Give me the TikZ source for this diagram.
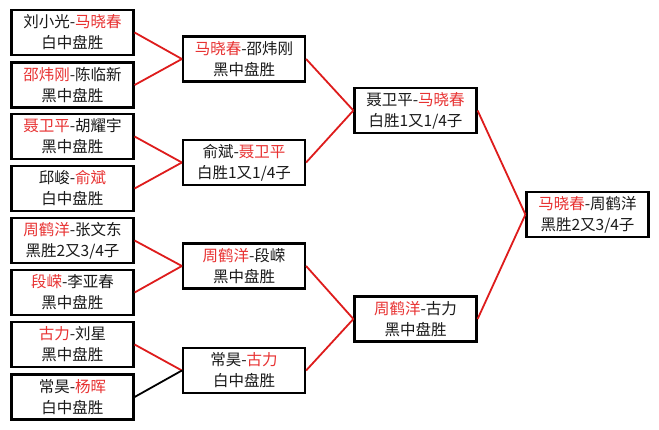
\documentclass[tikz,border=0pt]{standalone}
\usepackage{fontspec}
\setmainfont{Noto Sans CJK SC}
\definecolor{linered}{RGB}{222,28,28}
\definecolor{txtred}{RGB}{232,50,50}
\definecolor{txtblack}{RGB}{25,25,25}
\tikzset{
  match/.style={draw=black, line width=2.2pt, fill=white, minimum width=122pt, minimum height=45pt,
    align=center, inner sep=0pt, text=txtblack, font=\fontsize{15.5}{21}\selectfont},
  win/.style={draw=linered, line width=1.8pt},
  lose/.style={draw=black, line width=1.8pt}
}
\newcommand{\rd}[1]{\textcolor{txtred}{#1}}
\begin{document}
\begin{tikzpicture}[x=1pt,y=-1pt]
\useasboundingbox[fill=white] (0,0) rectangle (659,429);
% column 1
\node[match] (a1) at (72.5,32.5) {刘小光-\rd{马晓春}\\白中盘胜};
\node[match] (a2) at (72.5,85) {\rd{邵炜刚}-陈临新\\黑中盘胜};
\node[match] (a3) at (72.5,136.5) {\rd{聂卫平}-胡耀宇\\黑中盘胜};
\node[match] (a4) at (72.5,188.5) {邱峻-\rd{俞斌}\\白中盘胜};
\node[match] (a5) at (72.5,240.5) {\rd{周鹤洋}-张文东\\黑胜2又3/4子};
\node[match] (a6) at (72.5,292.5) {\rd{段嵘}-李亚春\\黑中盘胜};
\node[match] (a7) at (72.5,344.5) {\rd{古力}-刘星\\黑中盘胜};
\node[match] (a8) at (72.5,397) {常昊-\rd{杨晖}\\白中盘胜};
% column 2
\node[match] (b1) at (244,59) {\rd{马晓春}-邵炜刚\\黑中盘胜};
\node[match] (b2) at (244,162.5) {俞斌-\rd{聂卫平}\\白胜1又1/4子};
\node[match] (b3) at (244,266) {\rd{周鹤洋}-段嵘\\黑中盘胜};
\node[match] (b4) at (244,370.5) {常昊-\rd{古力}\\白中盘胜};
% column 3
\node[match] (c1) at (415.5,110.5) {聂卫平-\rd{马晓春}\\白胜1又1/4子};
\node[match] (c2) at (415.5,319) {\rd{周鹤洋}-古力\\黑中盘胜};
% final
\node[match] (d1) at (587.5,214.5) {\rd{马晓春}-周鹤洋\\黑胜2又3/4子};
% connectors
\draw[win] (a1.east) -- (b1.west);
\draw[win] (a2.east) -- (b1.west);
\draw[win] (a3.east) -- (b2.west);
\draw[win] (a4.east) -- (b2.west);
\draw[win] (a5.east) -- (b3.west);
\draw[win] (a6.east) -- (b3.west);
\draw[win] (a7.east) -- (b4.west);
\draw[lose] (a8.east) -- (b4.west);
\draw[win] (b1.east) -- (c1.west);
\draw[win] (b2.east) -- (c1.west);
\draw[win] (b3.east) -- (c2.west);
\draw[win] (b4.east) -- (c2.west);
\draw[win] (c1.east) -- (d1.west);
\draw[win] (c2.east) -- (d1.west);
\end{tikzpicture}
\end{document}
